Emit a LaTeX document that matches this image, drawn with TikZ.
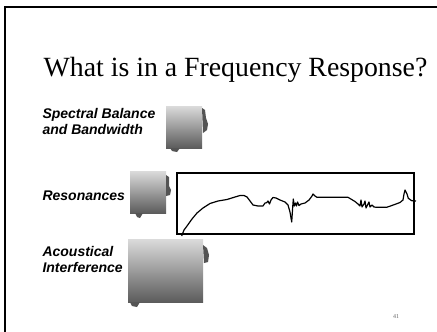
\documentclass[tikz,border=0pt]{standalone}
\usepackage{fontspec}
\setmainfont{Liberation Serif}
\setsansfont{Liberation Sans}
\definecolor{boxtop}{gray}{0.86}
\definecolor{boxbot}{gray}{0.36}
\definecolor{curlgray}{gray}{0.33}
\tikzset{
  shadebox/.style={top color=boxtop, bottom color=boxbot},
  curl/.style={fill=curlgray},
  topic/.style={anchor=base west, align=left, font=\sffamily\bfseries\itshape\fontsize{14}{16}\selectfont}
}

\begin{document}
\begin{tikzpicture}[x=1pt,y=-1pt]

  \useasboundingbox (0,0) rectangle (437,332);
  \begin{scope}
    \clip (0,0) rectangle (437,332);
    \draw[line width=2pt] (5,6.5) rectangle (470,360);
  \end{scope}

  \node[anchor=base, font=\fontsize{27.8}{30}\selectfont] (title) at (235.5,76) {What is in a Frequency Response?};

  \node[topic] (balance) at (39,134) {Spectral Balance\\and Bandwidth};
  \node[topic] (resonance) at (39,200) {Resonances};
  \node[topic] (interfere) at (39,272) {Acoustical\\Interference};

  % gradient boxes
  \shade[shadebox] (166,106) rectangle (202,148);
  \fill[curl] (202,108) -- (205,110) -- (206,118) -- (208,124) -- (207,130) -- (203,133) -- cycle;
  \fill[curl] (170,148) -- (180,148) -- (177,152) -- (172,151) -- cycle;

  \shade[shadebox] (130,171) rectangle (166,213);
  \fill[curl] (166,175) -- (169,177) -- (169,186) -- (171,190) -- (170,195) -- (166,196) -- cycle;
  \fill[curl] (135,213) -- (143,213) -- (140,218) -- (137,217) -- cycle;

  \shade[shadebox] (128,239) rectangle (203,302);
  \fill[curl] (203,245) -- (207,248) -- (209,255) -- (208,262) -- (204,263) -- cycle;
  \fill[curl] (130,302) -- (140,302) -- (137,307) -- (132,306) -- cycle;

  % response plot
  \draw[line width=1.6pt] (177,173) rectangle (414,234);
  \draw[line width=1.2pt, line join=round] plot coordinates {
    (181.7,236) (184,230) (187,226) (192,219) (197,213) (203,208) (210,203.5)
    (218,201) (227,199.5) (235,197) (240,195.5) (244,195.5) (247,197) (250,201)
    (253,205) (258,206) (263,206) (265,203) (266.7,202.7) (268,201) (269.5,204)
    (271,200) (273,197.5) (276,198) (280,200) (285,202) (288,205) (290,212)
    (291.7,222) (292.5,210) (293.3,199) (294.3,206) (295.5,203) (296.5,206)
    (297.5,202) (299,205.5) (301,204) (305,203) (309,200) (312,196) (313,194)
    (315,196) (317,197.3) (348,197.3) (355,201.5) (358,204) (360,206) (361,200)
    (362,207) (364,204) (365,201) (366,208) (368,204) (369,202) (370,207)
    (372,205) (374,207) (376.7,207.3) (386.7,207.3) (393.3,205) (400,202.5)
    (403,200) (404,194) (405,190) (407,194) (408.3,198.3) (411.7,200.7) (416,201)
  };

  \node[font=\fontsize{6}{7}\selectfont, text=gray!80!black] (pagenum) at (396,317) {41};

\end{tikzpicture}
\end{document}
